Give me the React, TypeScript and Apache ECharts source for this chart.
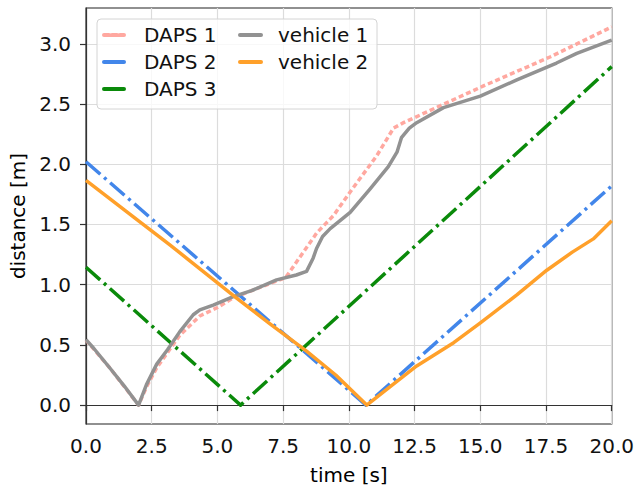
import React, { useEffect, useRef } from "react";
import * as echarts from "echarts";

const xTicks = [0, 2.5, 5, 7.5, 10, 12.5, 15, 17.5, 20];
const yTicks = [0, 0.5, 1, 1.5, 2, 2.5, 3];

const daps1T = [0, 0.9, 2.0, 2.3, 2.69, 3.57, 4.33, 5.0, 5.6, 6.3, 7.25, 7.6, 8.78, 9.42, 10.05, 11.06, 11.7, 12.08, 15.12, 17.65, 20];
const daps1D = [0.54, 0.31, 0.0, 0.15, 0.31, 0.58, 0.74, 0.81, 0.89, 0.95, 1.03, 1.06, 1.43, 1.575, 1.77, 2.07, 2.30, 2.345, 2.65, 2.89, 3.14];

const daps2T = [0, 10.65, 20];
const daps2D = [2.02, 0, 1.82];

const daps3T = [0, 5.88, 20];
const daps3D = [1.145, 0, 2.81];

const veh1T = [0, 0.3, 0.9, 1.45, 2.0, 2.3, 2.69, 3.1, 3.57, 4.08, 4.33, 4.84, 5.6, 6.3, 7.25, 8.0, 8.39, 8.64, 8.77, 9.0, 9.29, 10.05, 10.81, 11.5, 11.83, 12.0, 12.3, 12.58, 13.6, 15.0, 16.39, 17.9, 18.67, 20];
const veh1D = [0.544, 0.47, 0.31, 0.16, 0.0, 0.17, 0.34, 0.46, 0.61, 0.75, 0.79, 0.83, 0.9, 0.95, 1.04, 1.08, 1.11, 1.22, 1.30, 1.40, 1.465, 1.6, 1.795, 1.98, 2.10, 2.22, 2.30, 2.345, 2.47, 2.565, 2.70, 2.84, 2.92, 3.03];

const veh2T = [0, 2.0, 3.19, 4.0, 5.73, 7.0, 8.39, 9.5, 10.68, 11.5, 12.58, 14.0, 14.99, 16.39, 17.53, 18.5, 19.3, 20];
const veh2D = [1.865, 1.53, 1.33, 1.19, 0.888, 0.675, 0.448, 0.25, 0.0, 0.14, 0.325, 0.52, 0.68, 0.915, 1.12, 1.27, 1.38, 1.53];

const zip = (t: number[], d: number[]) => t.map((v, i) => [v, d[i]]);

const FONT = "DejaVu Sans";
const C1 = "#ffa8a0";
const C2 = "#4286ea";
const C3 = "#0a8a0a";
const C4 = "#929292";
const C5 = "#ffa02a";

export default function App() {
  const ref = useRef<HTMLDivElement>(null);
  useEffect(() => {
    if (!ref.current) return;
    const chart = echarts.init(ref.current, undefined, { renderer: "svg" });
    const mkSeries = (name: string, t: number[], d: number[], color: string, type: any, z: number) => ({
      name,
      type: "line",
      data: zip(t, d),
      symbol: "none",
      showSymbol: false,
      z,
      lineStyle: { color, width: 3.5, type, cap: "butt", join: "round" },
      itemStyle: { color },
    });
    const dashdot = [19, 5, 3, 5];
    const legendItem = (name: string, color: string, type: any) => ({
      name,
      itemStyle: { opacity: 0, borderWidth: 0 },
      lineStyle: { color, width: 4, type, cap: "round" },
    });
    chart.setOption({
      animation: false,
      textStyle: { fontFamily: FONT },
      grid: {
        left: 86,
        right: 25,
        top: 8,
        bottom: 63,
        show: true,
        borderColor: "#222",
        borderWidth: 1.2,
        backgroundColor: "transparent",
      },
      xAxis: {
        type: "value",
        min: 0,
        max: 20,
        interval: 2.5,
        name: "time [s]",
        nameLocation: "middle",
        nameGap: 41,
        nameTextStyle: { fontSize: 20, color: "#000", fontFamily: FONT },
        axisLine: { show: true, lineStyle: { color: "#333", width: 1.2 } },
        axisTick: { show: true, length: 6, lineStyle: { color: "#333", width: 1.2 } },
        axisLabel: {
          fontSize: 20,
          color: "#111",
          margin: 12,
          fontFamily: FONT,
          formatter: (v: number) => v.toFixed(1),
        },
        splitLine: { show: true, lineStyle: { color: "#dcdcdc", width: 1.2 } },
      },
      yAxis: {
        type: "value",
        min: -0.157,
        max: 3.297,
        name: "distance [m]",
        nameLocation: "middle",
        nameGap: 58,
        nameTextStyle: { fontSize: 20, color: "#000", fontFamily: FONT },
        axisLine: { show: true, lineStyle: { color: "#333", width: 1.2 } },
        axisTick: { show: true, length: 6, customValues: yTicks, lineStyle: { color: "#333", width: 1.2 } },
        axisLabel: {
          fontSize: 20,
          color: "#111",
          margin: 15,
          fontFamily: FONT,
          customValues: yTicks,
          formatter: (v: number) => v.toFixed(1),
        },
        splitLine: { show: true, lineStyle: { color: "#dcdcdc", width: 1.2 } },
      },
      legend: [
        {
          data: [legendItem("DAPS 1", C1, [5, 3]), legendItem("DAPS 2", C2, "solid"), legendItem("DAPS 3", C3, "solid")],
          orient: "vertical",
          left: 102,
          top: 25,
          padding: 0,
          itemWidth: 20,
          itemHeight: 14,
          itemGap: 7,
          z: 10,
          itemStyle: { opacity: 0, borderWidth: 0 },
          textStyle: { fontSize: 20, color: "#111", fontFamily: FONT, padding: [0, 0, 0, 15] },
        },
        {
          data: [legendItem("vehicle 1", C4, "solid"), legendItem("vehicle 2", C5, "solid")],
          orient: "vertical",
          left: 238,
          top: 25,
          padding: 0,
          itemWidth: 21,
          itemHeight: 14,
          itemGap: 7,
          z: 10,
          itemStyle: { opacity: 0, borderWidth: 0 },
          textStyle: { fontSize: 20, color: "#111", fontFamily: FONT, padding: [0, 0, 0, 12] },
        },
      ],
      graphic: [
        {
          type: "rect",
          z: 8,
          shape: { x: 97, y: 19, width: 280, height: 90, r: 4 },
          style: { fill: "rgba(255,255,255,0.8)", stroke: "#d4d4d4", lineWidth: 1 },
        },
      ],
      series: [
        mkSeries("DAPS 1", daps1T, daps1D, C1, [5, 3], 2),
        mkSeries("DAPS 2", daps2T, daps2D, C2, dashdot, 2),
        mkSeries("DAPS 3", daps3T, daps3D, C3, dashdot, 2),
        mkSeries("vehicle 1", veh1T, veh1D, C4, "solid", 3),
        mkSeries("vehicle 2", veh2T, veh2D, C5, "solid", 3),
      ],
    });
    return () => chart.dispose();
  }, []);
  return (
    <div
      ref={ref}
      style={{ position: "fixed", left: 0, top: 0, width: 637, height: 490, background: "#fff" }}
    />
  );
}
